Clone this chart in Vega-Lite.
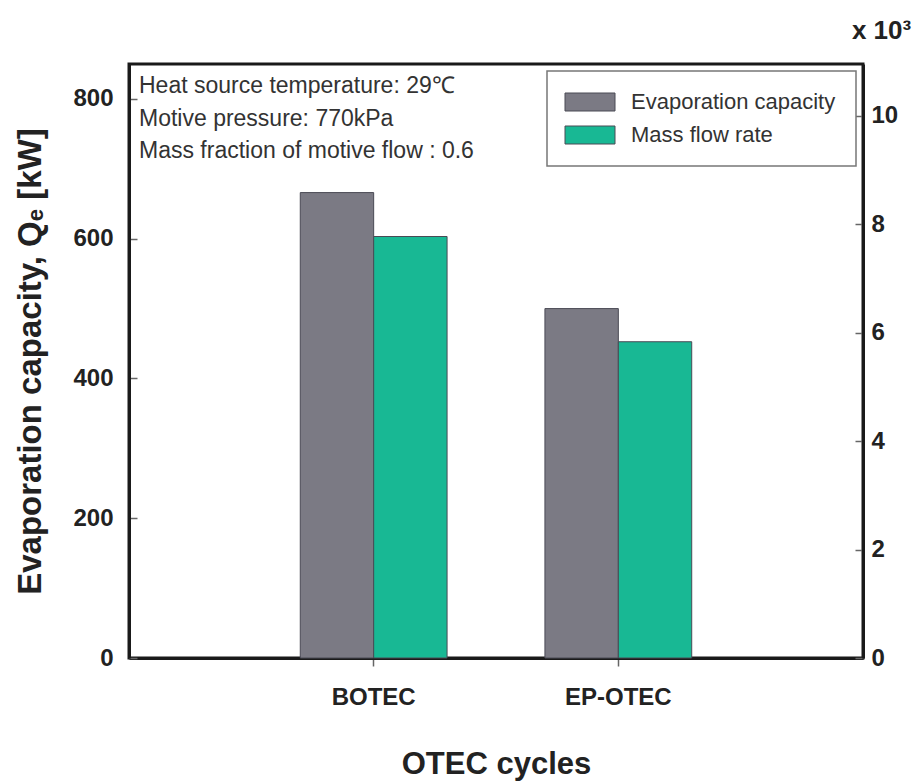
{
  "$schema": "https://vega.github.io/schema/vega-lite/v6.json",
  "width": 734,
  "height": 594,
  "autosize": {"type": "none"},
  "padding": {"left": 129, "top": 64, "right": 57, "bottom": 126},
  "title": {
    "text": ["Heat source temperature: 29℃", "Motive pressure: 770kPa", "Mass fraction of motive flow : 0.6"],
    "anchor": "start",
    "frame": "group",
    "orient": "top",
    "baseline": "top",
    "offset": -146,
    "dx": 10,
    "fontSize": 23,
    "fontWeight": "normal",
    "font": "Liberation Sans",
    "color": "#333333",
    "lineHeight": 32.5
  },
  "data": {
    "values": [
      {"cycle": "BOTEC", "series": "Evaporation capacity", "value": 666},
      {"cycle": "BOTEC", "series": "Mass flow rate", "value": 7770},
      {"cycle": "EP-OTEC", "series": "Evaporation capacity", "value": 500},
      {"cycle": "EP-OTEC", "series": "Mass flow rate", "value": 5830}
    ]
  },
  "layer": [
    {
      "transform": [{"filter": "datum.series === 'Evaporation capacity'"}],
      "mark": {"type": "bar", "stroke": "#4a4a55", "strokeWidth": 1},
      "encoding": {
        "x": {
          "field": "cycle", "type": "nominal", "sort": ["BOTEC", "EP-OTEC"],
          "scale": {"paddingInner": 0.4, "paddingOuter": 0.7},
          "axis": {
            "title": "OTEC cycles", "labelAngle": 0,
            "domainWidth": 3, "domainColor": "#1a1a1a",
            "tickSize": 8, "tickWidth": 1.5, "tickColor": "#666666",
            "labelFontSize": 24, "labelFontWeight": "bold", "labelFont": "Liberation Sans", "labelColor": "#222222", "labelPadding": 19,
            "titleFontSize": 31, "titleFontWeight": "bold", "titleFont": "Liberation Sans", "titleColor": "#222222", "titlePadding": 40
          }
        },
        "xOffset": {"field": "series", "type": "nominal", "scale": {"domain": ["Evaporation capacity", "Mass flow rate"], "paddingInner": 0, "paddingOuter": 0}},
        "y": {
          "field": "value", "type": "quantitative",
          "scale": {"domain": [0, 850], "nice": false},
          "axis": {
            "orient": "left", "values": [0, 200, 400, 600, 800], "grid": false,
            "title": "Evaporation capacity,  Qₑ  [kW]",
            "domainWidth": 3, "domainColor": "#1a1a1a",
            "tickSize": -8, "tickWidth": 1.5, "tickColor": "#666666",
            "labelFontSize": 24, "labelFontWeight": "bold", "labelFont": "Liberation Sans", "labelColor": "#222222", "labelPadding": 24,
            "titleFontSize": 33, "titleFontWeight": "bold", "titleFont": "Liberation Sans", "titleColor": "#222222", "titlePadding": 25
          }
        },
        "color": {"field": "series", "type": "nominal", "scale": {"domain": ["Evaporation capacity", "Mass flow rate"], "range": ["#7b7a84", "#18b894"]}}
      }
    },
    {
      "transform": [{"filter": "datum.series === 'Mass flow rate'"}],
      "mark": {"type": "bar", "stroke": "#4a4a55", "strokeWidth": 1},
      "encoding": {
        "x": {"field": "cycle", "type": "nominal", "sort": ["BOTEC", "EP-OTEC"]},
        "xOffset": {"field": "series", "type": "nominal", "scale": {"domain": ["Evaporation capacity", "Mass flow rate"], "paddingInner": 0, "paddingOuter": 0}},
        "y": {
          "field": "value", "type": "quantitative",
          "scale": {"domain": [0, 10950], "nice": false},
          "axis": {
            "orient": "right", "values": [0, 2000, 4000, 6000, 8000, 10000], "grid": false,
            "labelExpr": "datum.value / 1000",
            "title": "x  10³", "titleAngle": 0, "titleAlign": "center", "titleBaseline": "middle", "titleX": 18, "titleY": -34,
            "domainWidth": 3, "domainColor": "#1a1a1a",
            "tickSize": -8, "tickWidth": 1.5, "tickColor": "#666666",
            "labelFontSize": 24, "labelFontWeight": "bold", "labelFont": "Liberation Sans", "labelColor": "#222222", "labelPadding": 16,
            "titleFontSize": 26, "titleFontWeight": "bold", "titleFont": "Liberation Sans", "titleColor": "#222222"
          }
        },
        "color": {"field": "series", "type": "nominal", "scale": {"domain": ["Evaporation capacity", "Mass flow rate"], "range": ["#7b7a84", "#18b894"]}}
      }
    }
  ],
  "resolve": {"scale": {"y": "independent"}, "axis": {"y": "independent"}},
  "config": {
    "view": {"stroke": "#1a1a1a", "strokeWidth": 3},
    "legend": {
      "orient": "top-right", "offset": 7, "title": null,
      "symbolType": "M-1.3,-0.9H3.7V0.9H-1.3Z", "symbolSize": 400,
      "symbolStrokeColor": "#4a4a55", "symbolStrokeWidth": 1,
      "labelFontSize": 22, "labelFont": "Liberation Sans", "labelColor": "#333333", "labelOffset": 42, "labelLimit": 400,
      "rowPadding": 11, "padding": 20, "strokeColor": "#777777", "strokeWidth": 1.5, "fillColor": "white"
    }
  }
}
